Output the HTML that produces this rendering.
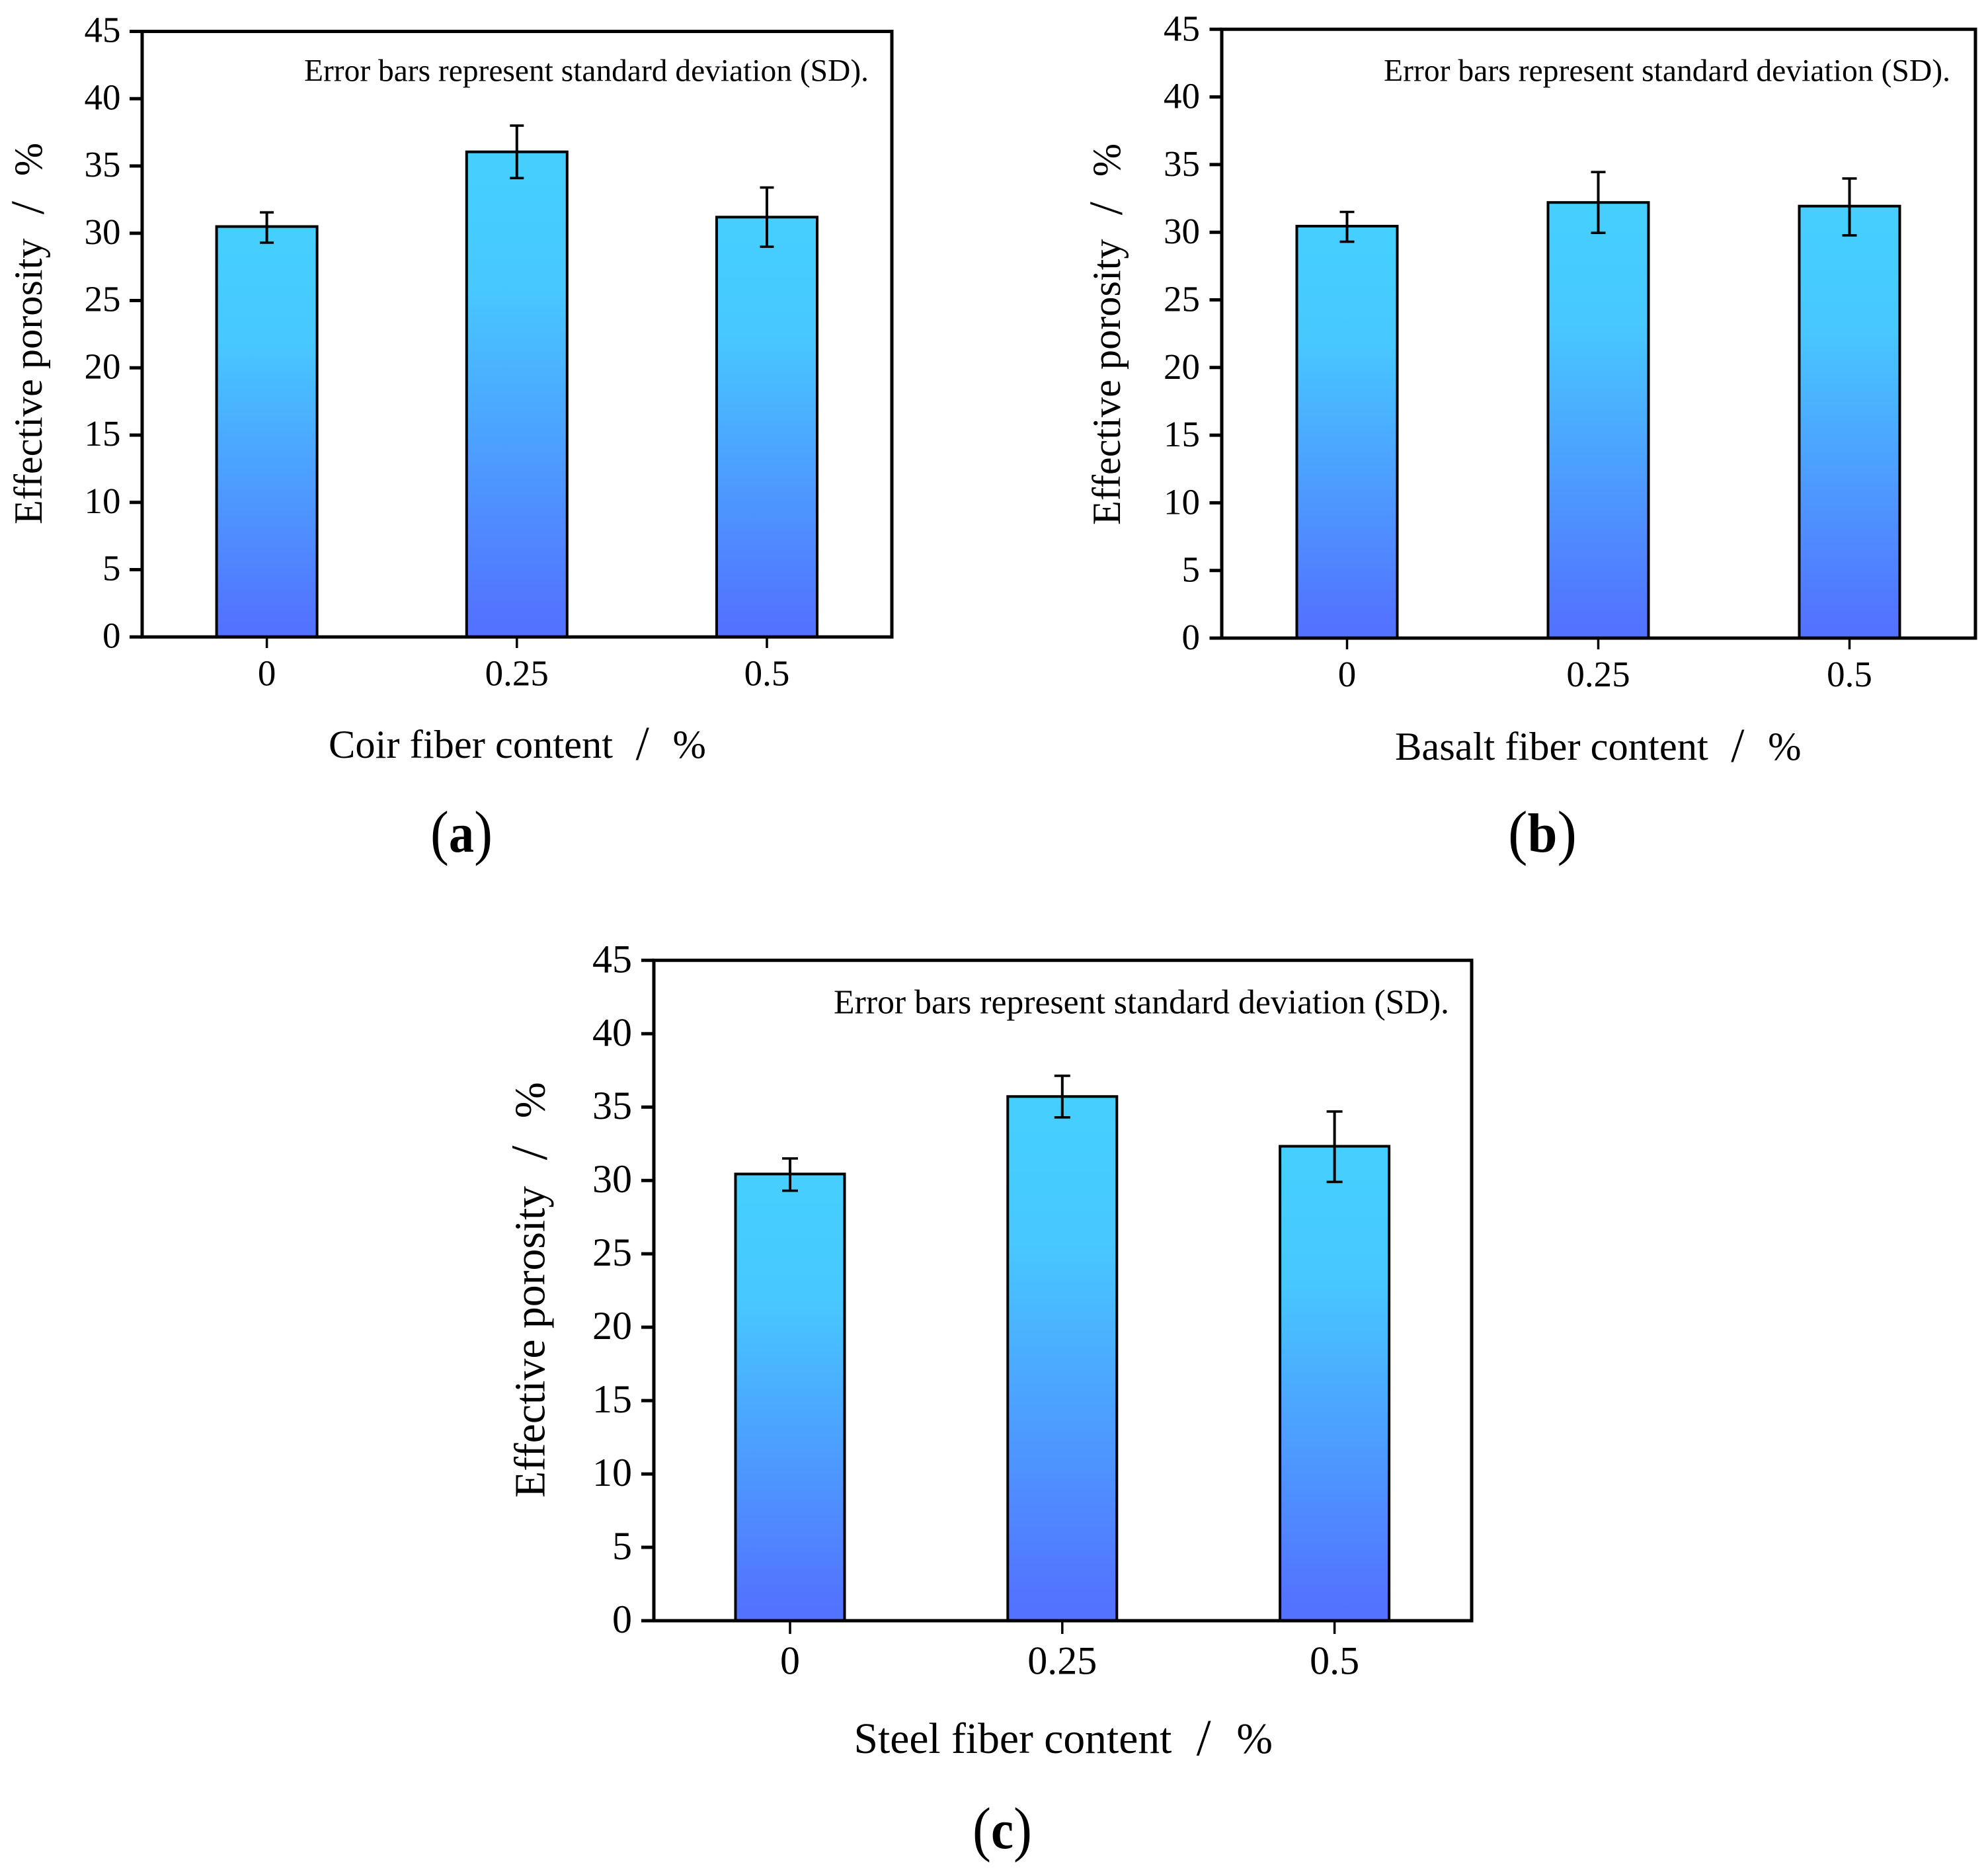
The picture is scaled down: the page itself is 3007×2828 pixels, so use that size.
<!DOCTYPE html>
<html lang="en">
<head>
<meta charset="utf-8">
<title>Effective porosity vs fiber content</title>
<style>
html,body{margin:0;padding:0;background:#fff;}
body{width:3007px;height:2828px;overflow:hidden;}
svg{display:block;}
text{font-family:"Liberation Serif",serif;fill:#000;}
</style>
</head>
<body>
<svg id="figure" xmlns="http://www.w3.org/2000/svg" width="3007" height="2828" viewBox="0 0 3007 2828">
<defs>
<linearGradient id="barGradient" x1="0" y1="0" x2="0" y2="1">
<stop offset="0" stop-color="#45CFFF"/>
<stop offset="0.28" stop-color="#47C8FF"/>
<stop offset="0.95" stop-color="#5274FF"/>
<stop offset="1" stop-color="#5272FF"/>
</linearGradient>
</defs>
</svg>
<script>
const categories = ["0", "0.25", "0.5"];
const yTickLabels = ["0", "5", "10", "15", "20", "25", "30", "35", "40", "45"];
const yMax = 45;

const coirValues = [30.5, 36.05, 31.2];
const coirErrHigh = [31.55, 38.0, 33.4];
const coirErrLow = [29.3, 34.1, 29.0];

const basaltValues = [30.45, 32.2, 31.93];
const basaltErrHigh = [31.5, 34.45, 33.97];
const basaltErrLow = [29.3, 29.95, 29.77];

const steelValues = [30.44, 35.72, 32.33];
const steelErrHigh = [31.5, 37.13, 34.7];
const steelErrLow = [29.3, 34.3, 29.9];

const annotationText = "Error bars represent standard deviation (SD).";

const panels = [
  {id:"a", values:coirValues, hi:coirErrHigh, lo:coirErrLow, xTitle:"Coir fiber content",
   left:215, right:1349, top:47.5, zero:963.3, firstX:403.6, stepX:378.2, barW:152, cap:10.5, tickLeft:196, tickEnd:980,
   fs:55, yLabelX:182.5, yLabelDy:16, xLabelY:1036.7, titleFs:60.5, xTitleX:497, xTitleY:1146,
   yTitleX:63, yTitleY:793, yTitleFs:60.3, noteX:460, noteY:122.5, noteFs:47.5, noteW:854,
   capX:651, capY:1288, capW:94, letter:"a"},
  {id:"b", values:basaltValues, hi:basaltErrHigh, lo:basaltErrLow, xTitle:"Basalt fiber content",
   left:1848, right:2988, top:44.3, zero:965, firstX:2037.5, stepX:380, barW:152, cap:11, tickLeft:1829.5, tickEnd:982,
   fs:55, yLabelX:1815, yLabelDy:17, xLabelY:1038, titleFs:60.5, xTitleX:2110, xTitleY:1149,
   yTitleX:1694, yTitleY:794, yTitleFs:60.3, noteX:2093, noteY:122.7, noteFs:47.5, noteW:857,
   capX:2281, capY:1288, capW:104, letter:"b"},
  {id:"c", values:steelValues, hi:steelErrHigh, lo:steelErrLow, xTitle:"Steel fiber content",
   left:989, right:2226, top:1452.3, zero:2451, firstX:1195, stepX:411.8, barW:165, cap:12, tickLeft:970, tickEnd:2471,
   fs:60, yLabelX:956, yLabelDy:18, xLabelY:2531.6, titleFs:65.6, xTitleX:1291.5, xTitleY:2651,
   yTitleX:823.5, yTitleY:2265, yTitleFs:65.7, noteX:1261, noteY:1532.7, noteFs:51.5, noteW:931,
   capX:1471, capY:2795, capW:90, letter:"c"}
];

const SVG_NS = "http://www.w3.org/2000/svg";
const figure = document.getElementById("figure");

function make(tag, attrs, parent, content) {
  const node = document.createElementNS(SVG_NS, tag);
  for (const key in attrs) node.setAttribute(key, attrs[key]);
  if (content !== undefined) node.textContent = content;
  parent.appendChild(node);
  return node;
}

function drawPanel(p) {
  const yScale = v => p.zero - (v / yMax) * (p.zero - p.top);
  const xScale = i => p.firstX + i * p.stepX;

  const group = make("g", {}, figure);
  
  

  const note = make("text", {x:p.noteX, y:p.noteY, "font-size":p.noteFs, textLength:p.noteW, lengthAdjust:"spacingAndGlyphs"}, group, annotationText);
  
  

  p.values.forEach((value, i) => {
    const bar = make("rect", {x:xScale(i) - p.barW / 2, y:yScale(value), width:p.barW, height:yScale(0) - yScale(value), fill:"url(#barGradient)", stroke:"#000", "stroke-width":4}, group);
    
    

    const stem = make("line", {x1:xScale(i), x2:xScale(i), y1:yScale(p.hi[i]), y2:yScale(p.lo[i]), stroke:"#000", "stroke-width":4}, group);
    
    

    const capHigh = make("line", {x1:xScale(i) - p.cap, x2:xScale(i) + p.cap, y1:yScale(p.hi[i]), y2:yScale(p.hi[i]), stroke:"#000", "stroke-width":3.6}, group);
    
    

    const capLow = make("line", {x1:xScale(i) - p.cap, x2:xScale(i) + p.cap, y1:yScale(p.lo[i]), y2:yScale(p.lo[i]), stroke:"#000", "stroke-width":3.6}, group);
    
    
  });

  const frame = make("path", {d:"M" + p.left + " " + p.zero + "V" + p.top + "H" + p.right + "V" + p.zero + "H" + p.left + "Z", fill:"none", stroke:"#000", "stroke-width":5}, group);
  
  

  yTickLabels.forEach(label => {
    const v = Number(label);
    const tick = make("line", {x1:p.tickLeft, x2:p.left, y1:yScale(v), y2:yScale(v), stroke:"#000", "stroke-width":5}, group);
    
    

    const text = make("text", {x:p.yLabelX, y:yScale(v) + p.yLabelDy, "font-size":p.fs, "text-anchor":"end"}, group, label);
    
    
  });

  categories.forEach((label, i) => {
    const tick = make("line", {x1:xScale(i), x2:xScale(i), y1:p.zero, y2:p.tickEnd, stroke:"#000", "stroke-width":3.5}, group);
    
    

    const text = make("text", {x:xScale(i), y:p.xLabelY, "font-size":p.fs, "text-anchor":"middle"}, group, label);
    
    
  });

  const xTitle = make("text", {x:p.xTitleX, y:p.xTitleY, "font-size":p.titleFs}, group, p.xTitle);
  
  
  make("tspan", {dx:"0.475em", dy:"3", "font-size":"1.2em"}, xTitle, "/");
  make("tspan", {dx:"0.59em", dy:"-3"}, xTitle, "%");

  const yTitle = make("text", {transform:"translate(" + p.yTitleX + " " + p.yTitleY + ") rotate(-90)", x:0, y:0, "font-size":p.yTitleFs}, group, "Effective porosity");
  
  
  make("tspan", {dx:"0.5em", dy:"3", "font-size":"1.2em"}, yTitle, "/");
  make("tspan", {dx:"0.63em", dy:"-3"}, yTitle, "%");

  const caption = make("text", {x:p.capX, y:p.capY, "font-size":84, textLength:p.capW, lengthAdjust:"spacingAndGlyphs"}, group);
  
  
  make("tspan", {"font-size":"92", dy:"2"}, caption, "(");
  make("tspan", {"font-weight":"bold", dy:"-2"}, caption, p.letter);
  make("tspan", {"font-size":"92", dy:"2"}, caption, ")");
}

panels.forEach(drawPanel);
</script>
</body>
</html>
